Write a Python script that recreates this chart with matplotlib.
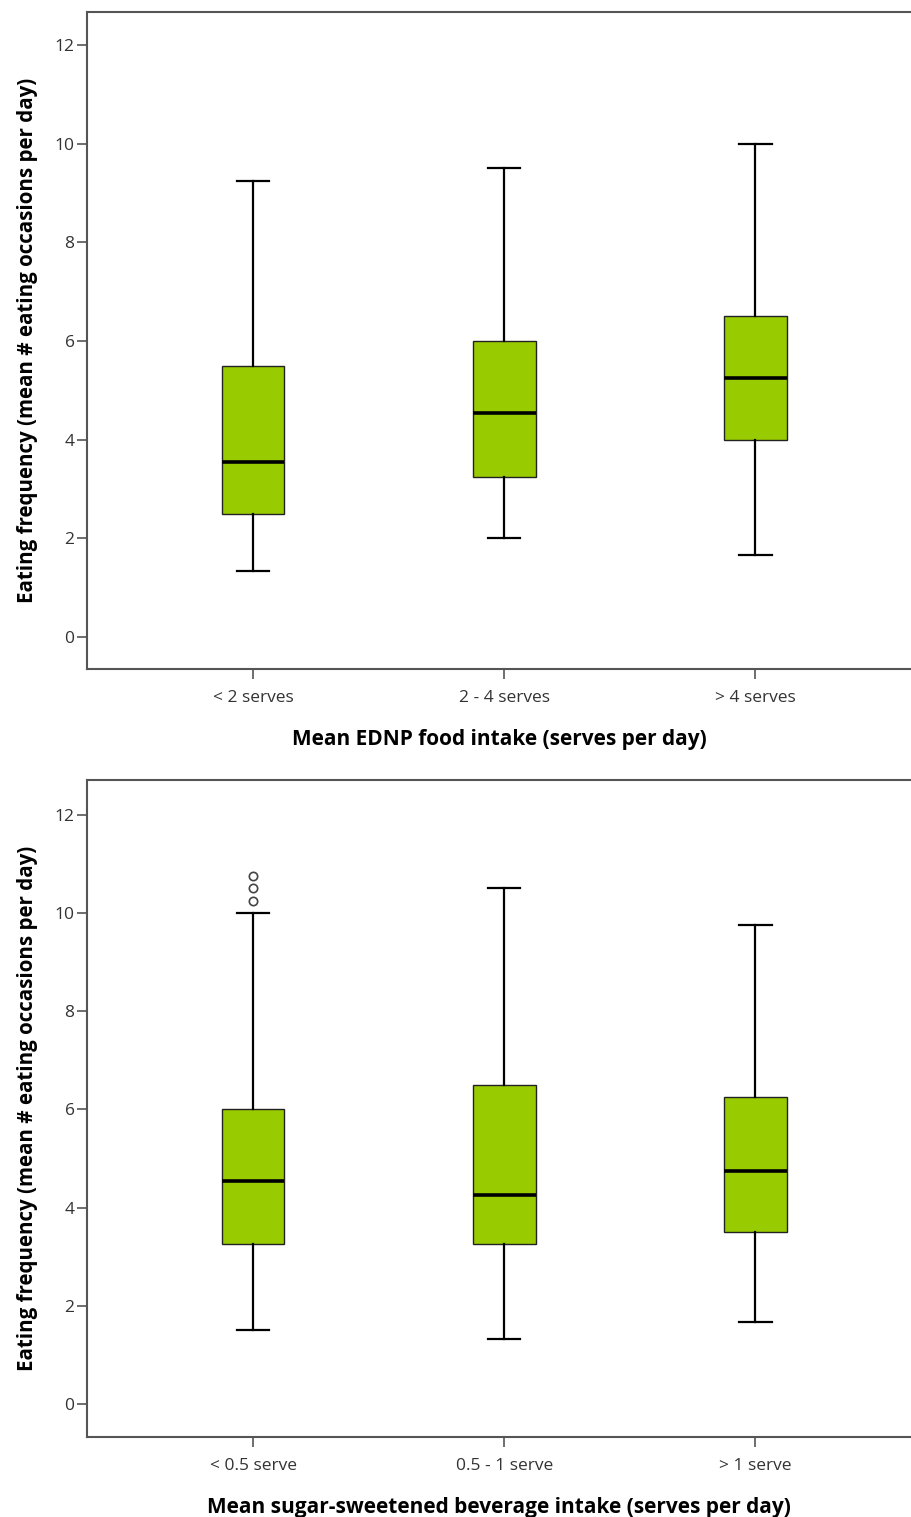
import matplotlib
matplotlib.use("Agg")
import matplotlib.pyplot as plt

# Top panel data
cats_top = ["< 2 serves", "2 - 4 serves", "> 4 serves"]
wlo_top = [1.33, 2.0, 1.67]
q1_top = [2.5, 3.25, 4.0]
med_top = [3.55, 4.55, 5.25]
q3_top = [5.5, 6.0, 6.5]
whi_top = [9.25, 9.5, 10.0]
fl_top = [[], [], []]

# Bottom panel data
cats_bot = ["< 0.5 serve", "0.5 - 1 serve", "> 1 serve"]
wlo_bot = [1.5, 1.33, 1.67]
q1_bot = [3.25, 3.25, 3.5]
med_bot = [4.55, 4.25, 4.75]
q3_bot = [6.0, 6.5, 6.25]
whi_bot = [10.0, 10.5, 9.75]
fl_bot = [[10.25, 10.5, 10.75], [], []]

ylabel = "Eating frequency (mean # eating occasions per day)"
xlabel_top = "Mean EDNP food intake (serves per day)"
xlabel_bot = "Mean sugar-sweetened beverage intake (serves per day)"
yticks = [0, 2, 4, 6, 8, 10, 12]

plt.rcParams['font.family'] = ['Open Sans', 'DejaVu Sans']

fig = plt.figure(figsize=(9.11, 15.17), dpi=100)
ax1 = fig.add_axes([0.0955, 0.559, 0.9045, 0.433])
ax2 = fig.add_axes([0.0955, 0.0527, 0.9045, 0.4333])

def draw(ax, cats, wlo, q1, med, q3, whi, fl, xlabel, ylim):
    stats = []
    for i in range(len(cats)):
        stats.append(dict(whislo=wlo[i], q1=q1[i], med=med[i], q3=q3[i],
                          whishi=whi[i], fliers=fl[i], label=cats[i]))
    ax.bxp(stats, positions=[1, 2, 3], widths=0.25, patch_artist=True,
           showfliers=True,
           boxprops=dict(facecolor="#99cc00", edgecolor="#222222", linewidth=1.0),
           medianprops=dict(color="black", linewidth=2.6),
           whiskerprops=dict(color="black", linewidth=1.6),
           capprops=dict(color="black", linewidth=1.6),
           capwidths=0.13,
           flierprops=dict(marker="o", markersize=6, markerfacecolor="white",
                           markeredgecolor="#444444", markeredgewidth=1.2))
    ax.set_xlim(0.339, 3.62)
    ax.set_ylim(*ylim)
    ax.set_yticks(yticks)
    ax.set_xticks([1, 2, 3])
    ax.set_xticklabels(cats)
    for s in ["left", "bottom", "top"]:
        ax.spines[s].set_color("#555555")
        ax.spines[s].set_linewidth(1.5)
    ax.spines["right"].set_visible(False)
    ax.tick_params(axis="both", direction="out", length=7, width=1.2,
                   color="#555555", labelsize=12.5, labelcolor="#333333")
    ax.tick_params(axis="x", pad=8)
    ax.tick_params(axis="y", pad=2)
    ax.set_xlabel(xlabel, fontsize=15, fontweight="bold", labelpad=17)
    ax.set_ylabel(ylabel, fontsize=14.8, fontweight="bold", labelpad=12)

draw(ax1, cats_top, wlo_top, q1_top, med_top, q3_top, whi_top, fl_top, xlabel_top, (-0.65, 12.67))
draw(ax2, cats_bot, wlo_bot, q1_bot, med_bot, q3_bot, whi_bot, fl_bot, xlabel_bot, (-0.67, 12.71))

fig.savefig("out.png", dpi=100)
